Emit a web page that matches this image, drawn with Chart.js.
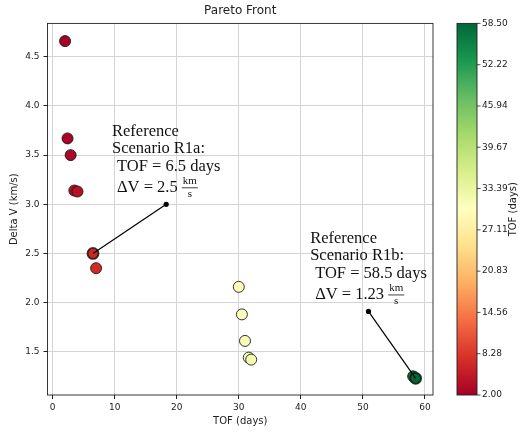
<!DOCTYPE html>
<html>
<head>
<meta charset="utf-8">
<script src="https://cdn.jsdelivr.net/npm/chart.js@4"></script>
<style>
html, body { margin: 0; padding: 0; background: #fff; }
#wrap { width: 525px; height: 432px; }
</style>
</head>
<body>
<div id="wrap"><canvas id="paretoChart" width="525" height="432"></canvas></div>
<script>
// Pareto front points
const tofDays = [2.0, 2.4, 2.9, 3.5, 4.0, 6.5, 7.0, 30.0, 30.5, 31.0, 31.6, 32.0, 58.1, 58.5];
const deltaV = [4.66, 3.67, 3.50, 3.14, 3.13, 2.50, 2.35, 2.16, 1.88, 1.61, 1.44, 1.42, 1.25, 1.23];

// reference scenarios and where their labels sit
const refNames = ['R1a', 'R1b'];
const refTof = [6.5, 58.5];
const refDv = [2.5, 1.23];
const refLabelTof = [18.3, 50.9];
const refLabelDv = [3.0, 1.91];

const xTicks = [0, 10, 20, 30, 40, 50, 60];
const yTicks = [1.5, 2.0, 2.5, 3.0, 3.5, 4.0, 4.5];
const cbTicks = [2.00, 8.28, 14.56, 20.83, 27.11, 33.39, 39.67, 45.94, 52.22, 58.50];

const rdylgn = ['#a50026', '#d73027', '#f46d43', '#fdae61', '#fee08b', '#ffffbf',
                '#d9ef8b', '#a6d96a', '#66bd63', '#1a9850', '#006837'];
const cbMin = cbTicks[0];
const cbMax = cbTicks[cbTicks.length - 1];
const ink = '#222';

const hexRgb = (h) => [1, 3, 5].map(i => parseInt(h.slice(i, i + 2), 16));

const cmap = (v) => {
    const t = Math.min(1, Math.max(0, (v - cbMin) / (cbMax - cbMin)));
    const p = t * (rdylgn.length - 1);
    const i = Math.min(Math.floor(p), rdylgn.length - 2);
    const f = p - i;
    const a = hexRgb(rdylgn[i]);
    const b = hexRgb(rdylgn[i + 1]);
    return `rgb(${a.map((c, k) => Math.round(c + (b[k] - c) * f)).join(',')})`;
};

const isRef = (i) => refTof.some((t, k) => t === tofDays[i] && refDv[k] === deltaV[i]);

// text boxes, frame and colorbar
const decor = {
    id: 'decor',
    afterDatasetsDraw(chart) {
        const { ctx, scales: { x, y } } = chart;
        const big = '16.5px "Liberation Serif", serif';
        const small = '11px "Liberation Serif", serif';
        ctx.save();
        ctx.fillStyle = '#111';
        ctx.strokeStyle = '#111';
        ctx.textBaseline = 'middle';
        refNames.forEach((name, i) => {
            const px = x.getPixelForValue(refLabelTof[i]);
            const py = y.getPixelForValue(refLabelDv[i]);
            const lines = ['Reference', 'Scenario ' + name + ':'];
            const tofLine = 'TOF = ' + refTof[i] + ' days';
            const dvLine = '\u0394V = ' + refDv[i] + ' ';
            ctx.font = small;
            const fracW = ctx.measureText('km').width + 2;
            ctx.font = big;
            const indent = 5;
            const widths = [
                ctx.measureText(lines[0]).width,
                ctx.measureText(lines[1]).width,
                indent + ctx.measureText(tofLine).width,
                indent + ctx.measureText(dvLine).width + fracW
            ];
            const left = px - Math.max(...widths) / 2;
            ctx.textAlign = 'left';
            ctx.fillText(lines[0], left, py - 73);
            ctx.fillText(lines[1], left, py - 56);
            ctx.fillText(tofLine, left + indent, py - 38);
            const dy = py - 17;
            ctx.fillText(dvLine, left + indent, dy);
            const fx = left + indent + ctx.measureText(dvLine).width;
            ctx.font = small;
            ctx.textAlign = 'center';
            ctx.fillText('km', fx + fracW / 2, dy - 6);
            ctx.fillText('s', fx + fracW / 2, dy + 7);
            ctx.lineWidth = 0.8;
            ctx.beginPath();
            ctx.moveTo(fx, dy + 0.5);
            ctx.lineTo(fx + fracW, dy + 0.5);
            ctx.stroke();
        });
        ctx.restore();
    },
    afterDraw(chart) {
        const { ctx, chartArea: a } = chart;
        ctx.save();
        ctx.strokeStyle = ink;
        ctx.lineWidth = 0.9;
        ctx.strokeRect(a.left, a.top, a.right - a.left, a.bottom - a.top);

        const cb = chart.scales.cb;
        const x0 = a.right + 24;
        const w = 20;
        const top = cb.getPixelForValue(cbMax);
        const bot = cb.getPixelForValue(cbMin);
        const g = ctx.createLinearGradient(0, bot, 0, top);
        rdylgn.forEach((c, k) => g.addColorStop(k / (rdylgn.length - 1), c));
        ctx.fillStyle = g;
        ctx.fillRect(x0, top, w, bot - top);
        ctx.strokeRect(x0, top, w, bot - top);
        ctx.lineWidth = 0.8;
        cb.ticks.forEach(t => {
            const ty = cb.getPixelForValue(t.value);
            ctx.beginPath();
            ctx.moveTo(x0 + w, ty);
            ctx.lineTo(x0 + w + 3.5, ty);
            ctx.stroke();
        });

        ctx.fillStyle = ink;
        ctx.font = '10px "DejaVu Sans"';
        ctx.textAlign = 'center';
        ctx.textBaseline = 'middle';
        ctx.translate(513, (top + bot) / 2);
        ctx.rotate(-Math.PI / 2);
        ctx.fillText('TOF (days)', 0, 0);
        ctx.restore();
    }
};

const tickFont = { family: 'DejaVu Sans', size: 9 };
const labelFont = { family: 'DejaVu Sans', size: 10 };

const refLines = refNames.map((name, i) => ({
    label: name,
    data: [{ x: refTof[i], y: refDv[i] }, { x: refLabelTof[i], y: refLabelDv[i] }],
    showLine: true,
    borderColor: '#000',
    borderWidth: 1.2,
    pointRadius: [0, 2.6],
    pointBackgroundColor: '#000',
    pointBorderWidth: 0,
    order: 0
}));

new Chart(document.getElementById('paretoChart').getContext('2d'), {
    type: 'scatter',
    data: {
        datasets: [
            ...refLines,
            {
                label: 'Pareto front',
                data: tofDays.map((t, i) => ({ x: t, y: deltaV[i] })),
                pointRadius: 5.5,
                pointBackgroundColor: tofDays.map(cmap),
                pointBorderColor: 'rgba(20,20,20,0.85)',
                pointBorderWidth: tofDays.map((t, i) => isRef(i) ? 1.8 : 1),
                order: 1
            }
        ]
    },
    options: {
        responsive: false,
        animation: false,
        layout: { padding: 0, autoPadding: false },
        plugins: {
            legend: { display: false },
            tooltip: { enabled: false },
            title: {
                display: true,
                text: 'Pareto Front',
                fullSize: false,
                color: ink,
                font: { family: 'DejaVu Sans', size: 12, weight: 'normal' },
                padding: { top: 4, bottom: 5 }
            }
        },
        scales: {
            x: {
                type: 'linear',
                position: 'bottom',
                min: -0.83,
                max: 61.3,
                afterBuildTicks: s => { s.ticks = xTicks.map(v => ({ value: v })); },
                afterFit: s => { s.height = 37; },
                grid: { color: '#d4d4d4', tickColor: ink, tickLength: 4 },
                border: { display: false },
                ticks: { color: ink, font: tickFont, padding: 3, maxRotation: 0, autoSkip: false,
                         callback: v => String(v) },
                title: { display: true, text: 'TOF (days)', color: ink, font: labelFont,
                         padding: { top: 0, bottom: 5 } }
            },
            y: {
                type: 'linear',
                position: 'left',
                min: 1.06,
                max: 4.84,
                afterBuildTicks: s => { s.ticks = yTicks.map(v => ({ value: v })); },
                afterFit: s => { s.width = 47.5; },
                grid: { color: '#d4d4d4', tickColor: ink, tickLength: 4 },
                border: { display: false },
                ticks: { color: ink, font: tickFont, padding: 4, autoSkip: false,
                         callback: v => v.toFixed(1) },
                title: { display: true, text: 'Delta V (km/s)', color: ink, font: labelFont,
                         padding: { top: 8, bottom: 0 } }
            },
            cb: {
                type: 'linear',
                position: 'right',
                min: cbMin,
                max: cbMax,
                afterBuildTicks: s => { s.ticks = cbTicks.map(v => ({ value: v })); },
                afterFit: s => { s.width = 92; s.paddingTop = 0; s.paddingBottom = 0; },
                grid: { drawOnChartArea: false, drawTicks: true, tickLength: 46,
                        tickColor: 'rgba(0,0,0,0)' },
                border: { display: false },
                ticks: { color: ink, font: tickFont, padding: 3, autoSkip: false,
                         callback: v => v.toFixed(2) }
            }
        }
    },
    plugins: [decor]
});
</script>
</body>
</html>
